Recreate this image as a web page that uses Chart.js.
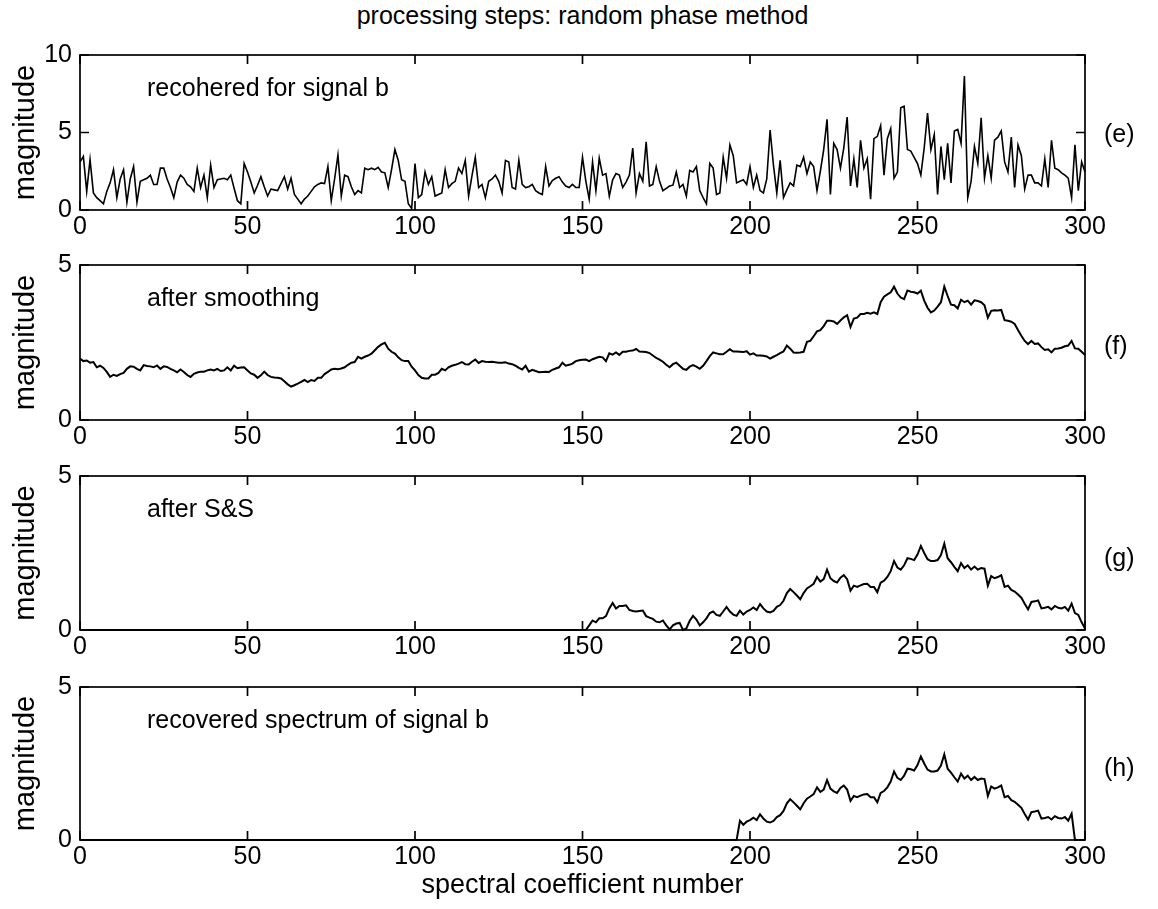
<!DOCTYPE html>
<html>
<head>
<meta charset="utf-8">
<title>processing steps: random phase method</title>
<script src="https://cdn.jsdelivr.net/npm/chart.js@4.4.1/dist/chart.umd.min.js"></script>
<style>
  body { margin: 0; background: #fff; }
  #page { position: relative; width: 1158px; height: 909px; font-family: "Liberation Sans", Arial, sans-serif; color: #000; }
  #page canvas { position: absolute; left: 0; }
  .caption { position: absolute; font-size: 25px; line-height: 30px; white-space: nowrap; }
  #title { left: 0; width: 1165px; top: 0; text-align: center; }
  .tag { left: 1104px; }
</style>
</head>
<body>
<div id="page">
  <div id="title" class="caption">processing steps: random phase method</div>
  <canvas id="panel-e"></canvas>
  <canvas id="panel-f"></canvas>
  <canvas id="panel-g"></canvas>
  <canvas id="panel-h"></canvas>
  <div class="caption tag" style="top:118px">(e)</div>
  <div class="caption tag" style="top:330px">(f)</div>
  <div class="caption tag" style="top:542px">(g)</div>
  <div class="caption tag" style="top:752px">(h)</div>
</div>
<script>
// spectral coefficient index, 0..300
const coeff = Array.from({ length: 301 }, (_, i) => i);
const xTicks = [0, 50, 100, 150, 200, 250, 300];

// (e) recohered spectrum for signal b
const recoheredB = [
  3.1, 3.45, 1.2, 3.25, 1.1, 0.8, 0.6, 0.4, 1.2, 1.75,
  2.6, 0.8, 2.0, 2.6, 0.5, 2.0, 2.8, 0.5, 1.85, 1.95,
  2.05, 2.25, 1.65, 1.65, 2.7, 2.7, 2.0, 1.45, 0.8, 1.8,
  2.25, 2.05, 1.65, 1.5, 1.2, 2.7, 1.45, 2.25, 0.8, 2.9,
  1.45, 1.95, 2.0, 2.05, 1.95, 2.25, 1.4, 0.6, 0.4, 3.0,
  2.45, 1.8, 1.1, 1.6, 2.15, 1.5, 0.9, 1.35, 1.3, 1.25,
  1.7, 2.15, 1.35, 2.05, 1.0, 0.7, 0.4, 0.7, 0.9, 1.2,
  1.5, 1.65, 1.75, 1.7, 2.8, 0.6, 2.0, 3.55, 0.9, 2.25,
  2.15, 1.5, 1.0, 1.25, 1.1, 2.7, 2.6, 2.7, 2.6, 2.75,
  2.45, 2.4, 1.45, 2.6, 3.9, 3.2, 1.95, 1.85, 0.4, 0.1,
  3.0, 0.8, 1.0, 2.45, 1.65, 2.15, 0.9, 1.0, 1.1, 2.6,
  1.45, 1.7, 1.85, 2.7, 2.35, 3.2, 0.9, 2.2, 3.4, 1.45,
  1.65, 0.8, 1.85, 2.0, 2.25, 1.85, 1.1, 3.2, 3.1, 1.45,
  1.35, 3.2, 1.65, 1.45, 1.5, 1.65, 1.25, 1.1, 1.0, 2.8,
  1.55, 1.9, 2.05, 2.15, 1.8, 1.55, 1.45, 1.65, 1.45, 1.45,
  3.4, 1.85, 0.7, 3.1, 1.25, 3.35, 2.25, 2.35, 0.9, 1.95,
  2.35, 2.25, 1.45, 1.8, 2.25, 4.0, 1.1, 2.35, 1.85, 4.4,
  1.55, 1.65, 2.8, 1.85, 1.25, 1.4, 1.55, 1.6, 2.45, 1.45,
  1.65, 0.9, 2.55, 2.45, 2.8, 1.25, 0.8, 0.4, 3.0, 2.7,
  1.0, 1.1, 3.4, 2.05, 4.2, 3.5, 1.75, 1.85, 1.95, 1.65,
  2.8, 1.45, 2.25, 1.25, 1.1, 2.0, 5.15, 2.9, 1.1, 3.2,
  0.8, 1.3, 1.75, 1.55, 2.9, 2.8, 3.4, 2.35, 3.1, 2.8,
  1.25, 2.5, 3.9, 5.85, 1.0, 4.3, 3.9, 2.7, 4.0, 6.0,
  1.55, 3.3, 1.45, 4.5, 2.7, 3.3, 0.7, 4.6, 4.75, 5.45,
  2.25, 4.6, 5.25, 2.05, 2.45, 6.6, 6.7, 3.9, 3.8, 3.4,
  3.0, 2.25, 4.0, 6.25, 3.9, 4.85, 1.0, 4.1, 1.95, 4.3,
  1.75, 5.1, 5.2, 4.3, 8.65, 0.8, 1.85, 4.1, 3.0, 5.95,
  2.05, 3.5, 2.05, 4.5, 4.7, 5.1, 3.1, 2.45, 4.7, 1.45,
  4.2, 3.5, 1.35, 2.25, 2.25, 1.75, 1.75, 1.55, 3.3, 1.45,
  4.5, 2.7, 2.6, 2.4, 2.25, 2.05, 0.8, 4.2, 1.25, 3.1, 2.45
];

// (f) after smoothing
const smoothed = [
  1.98, 1.9, 1.92, 1.85, 1.87, 1.7, 1.75, 1.68, 1.55, 1.39,
  1.46, 1.42, 1.48, 1.52, 1.65, 1.73, 1.72, 1.65, 1.6, 1.77,
  1.74, 1.73, 1.7, 1.76, 1.65, 1.73, 1.71, 1.65, 1.6, 1.54,
  1.63, 1.55, 1.45, 1.39, 1.49, 1.53, 1.56, 1.56, 1.6, 1.63,
  1.6, 1.65, 1.58, 1.6, 1.7, 1.6, 1.75, 1.67, 1.69, 1.7,
  1.6, 1.5, 1.46, 1.36, 1.44, 1.56, 1.45, 1.39, 1.37, 1.36,
  1.34, 1.25, 1.15, 1.08, 1.12, 1.17, 1.23, 1.29, 1.22, 1.29,
  1.26, 1.36, 1.36, 1.48, 1.55, 1.63, 1.65, 1.64, 1.66, 1.7,
  1.78, 1.85, 1.87, 2.04, 1.98, 2.04, 2.08, 2.14, 2.25, 2.36,
  2.44, 2.49, 2.3, 2.2, 2.14, 2.02, 1.93, 1.9, 1.9, 1.72,
  1.6, 1.45, 1.36, 1.34, 1.34, 1.46, 1.46, 1.52, 1.65, 1.6,
  1.7, 1.75, 1.78, 1.82, 1.87, 1.8, 1.79, 1.88, 1.95, 1.84,
  1.9, 1.88, 1.87, 1.88, 1.86, 1.85, 1.85, 1.86, 1.82, 1.8,
  1.75, 1.68, 1.63, 1.75, 1.56, 1.62, 1.58, 1.54, 1.55, 1.56,
  1.55, 1.62, 1.66, 1.7, 1.85, 1.75, 1.78, 1.82, 1.9, 1.93,
  1.94, 1.95, 1.9, 1.96, 2.0, 2.04, 2.02, 1.9, 2.15, 2.11,
  2.18, 2.1, 2.2, 2.2, 2.23, 2.24, 2.29, 2.21, 2.2, 2.19,
  2.16, 2.08, 2.0, 1.95, 1.88, 1.78, 1.7, 1.8, 1.85, 1.75,
  1.65, 1.62, 1.72, 1.77, 1.72, 1.65, 1.75, 1.9, 2.06, 2.18,
  2.15, 2.12, 2.12, 2.2, 2.28, 2.21, 2.21, 2.2, 2.19, 2.22,
  2.11, 2.15, 2.08, 2.08, 2.07, 2.05, 1.98, 2.04, 2.09, 2.16,
  2.21, 2.4, 2.3, 2.18, 2.17, 2.18, 2.2, 2.52, 2.55, 2.7,
  2.86, 2.9, 3.03, 3.2, 3.2, 3.18, 3.1, 3.21, 3.31, 3.38,
  3.0, 3.27, 3.3, 3.42, 3.42, 3.46, 3.43, 3.47, 3.42, 3.8,
  3.98, 4.05, 4.12, 4.3, 4.08, 3.95, 3.9, 4.18, 4.14, 4.12,
  4.08, 4.17, 3.85, 3.62, 3.47, 3.53, 3.66, 3.8, 4.3, 4.0,
  3.72, 3.7, 3.6, 3.88, 3.8, 3.85, 3.72, 3.86, 3.84, 3.8,
  3.7, 3.3, 3.52, 3.54, 3.53, 3.55, 3.22, 3.2, 3.17, 3.1,
  2.9, 2.72, 2.55, 2.45, 2.55, 2.45, 2.47, 2.35, 2.26, 2.28,
  2.18, 2.3, 2.31, 2.33, 2.38, 2.4, 2.55, 2.31, 2.3, 2.2, 2.1
];

// (g) after S&S: zero below coefficient 152, these values from 152 on
const ssStart = 152;
const afterSS = [
  0.15, 0.31, 0.25, 0.38, 0.38, 0.45, 0.7, 0.88, 0.7, 0.78,
  0.78, 0.8, 0.65, 0.62, 0.6, 0.62, 0.63, 0.45, 0.4, 0.36,
  0.27, 0.25, 0.31, 0.15, 0.02, 0.15, 0.21, 0.23, 0.0, 0.05,
  0.3, 0.46, 0.34, 0.15, 0.25, 0.38, 0.55, 0.6, 0.49, 0.46,
  0.6, 0.75, 0.6, 0.5, 0.46, 0.63, 0.5, 0.6, 0.65, 0.73,
  0.65, 0.84, 0.7, 0.6, 0.57, 0.62, 0.75, 0.81, 0.95, 1.2,
  1.33, 1.23, 1.12, 1.0, 1.2, 1.35, 1.42, 1.5, 1.72, 1.57,
  1.65, 1.96, 1.68, 1.59, 1.54, 1.7, 1.78, 1.65, 1.28, 1.44,
  1.4, 1.45, 1.49, 1.5, 1.4, 1.4, 1.23, 1.54, 1.6, 1.72,
  1.91, 2.24, 2.03, 1.96, 2.1, 2.33, 2.31, 2.27, 2.45, 2.73,
  2.5, 2.3, 2.24, 2.24, 2.27, 2.43, 2.8, 2.33, 2.2, 2.05,
  1.91, 2.17, 2.01, 2.1, 1.96, 2.06, 1.96, 2.01, 1.99, 1.44,
  1.75, 1.68, 1.72, 1.78, 1.4, 1.44, 1.3, 1.25, 1.15, 1.05,
  0.85, 0.67, 0.91, 0.93, 0.96, 0.7, 0.72, 0.75, 0.67, 0.78,
  0.72, 0.7, 0.75, 0.63, 0.86, 0.55, 0.49, 0.25, 0.05
];

// (h) recovered spectrum of signal b: zero below coefficient 197
const recoveredStart = 197;
const recoveredB = [
  0.63, 0.5, 0.6, 0.65, 0.73,
  0.65, 0.84, 0.7, 0.6, 0.57, 0.62, 0.75, 0.81, 0.95, 1.2,
  1.33, 1.23, 1.12, 1.0, 1.2, 1.35, 1.42, 1.5, 1.72, 1.57,
  1.65, 1.96, 1.68, 1.59, 1.54, 1.7, 1.78, 1.65, 1.28, 1.44,
  1.4, 1.45, 1.49, 1.5, 1.4, 1.4, 1.23, 1.54, 1.6, 1.72,
  1.91, 2.24, 2.03, 1.96, 2.1, 2.33, 2.31, 2.27, 2.45, 2.73,
  2.5, 2.3, 2.24, 2.24, 2.27, 2.43, 2.8, 2.33, 2.2, 2.05,
  1.91, 2.17, 2.01, 2.1, 1.96, 2.06, 1.96, 2.01, 1.99, 1.44,
  1.75, 1.68, 1.72, 1.78, 1.4, 1.44, 1.3, 1.25, 1.15, 1.05,
  0.85, 0.67, 0.91, 0.93, 0.96, 0.7, 0.72, 0.75, 0.67, 0.78,
  0.72, 0.7, 0.75, 0.63, 0.86, 0.0, 0.0, 0.0, 0.0
];

const FONT = '"Liberation Sans", Arial, sans-serif';
const TICK = 9;
const PAD_TOP = 16;

function fromIndex(values, start) {
  const pts = values.map((v, k) => ({ x: coeff[start + k], y: v }));
  if (start > 0) pts.unshift({ x: coeff[0], y: 0 }, { x: coeff[start - 1], y: 0 });
  return pts;
}

const panels = [
  { id: 'panel-e', note: 'recohered for signal b', noteY: 7.8, top: 48, bottom: 210, yMax: 10, lw: 1.6,
    points: fromIndex(recoheredB, 0) },
  { id: 'panel-f', note: 'after smoothing', noteY: 3.9, top: 258, bottom: 420, yMax: 5, lw: 2,
    points: fromIndex(smoothed, 0) },
  { id: 'panel-g', note: 'after S&S', noteY: 3.9, top: 469, bottom: 630, yMax: 5, lw: 2,
    points: fromIndex(afterSS, ssStart) },
  { id: 'panel-h', note: 'recovered spectrum of signal b', noteY: 3.9, top: 680, bottom: 840, yMax: 5, lw: 2,
    points: fromIndex(recoveredB, recoveredStart), last: true }
];

// box with inward ticks on all four sides, plus the panel caption
function framePlugin(p) {
  return {
    id: 'frame',
    afterDatasetsDraw(chart) {
      const { ctx, chartArea: a, scales: { x, y } } = chart;
      ctx.save();
      ctx.strokeStyle = '#000';
      ctx.lineWidth = 1.7;
      ctx.strokeRect(a.left, a.top, a.right - a.left, a.bottom - a.top);
      ctx.beginPath();
      x.ticks.forEach(t => {
        const px = x.getPixelForValue(t.value);
        ctx.moveTo(px, a.bottom); ctx.lineTo(px, a.bottom - TICK);
        ctx.moveTo(px, a.top); ctx.lineTo(px, a.top + TICK);
      });
      y.ticks.forEach(t => {
        const py = y.getPixelForValue(t.value);
        ctx.moveTo(a.left, py); ctx.lineTo(a.left + TICK, py);
        ctx.moveTo(a.right, py); ctx.lineTo(a.right - TICK, py);
      });
      ctx.stroke();
      ctx.fillStyle = '#000';
      ctx.font = '25px ' + FONT;
      ctx.textBaseline = 'middle';
      ctx.fillText(p.note, x.getPixelForValue(20), y.getPixelForValue(p.noteY));
      ctx.restore();
    }
  };
}

panels.forEach(p => {
  const canvas = document.getElementById(p.id);
  const axisH = p.last ? 69 : 34;
  const height = PAD_TOP + (p.bottom - p.top) + axisH;
  canvas.width = 1158;
  canvas.height = height;
  canvas.style.top = (p.top - PAD_TOP) + 'px';

  new Chart(canvas, {
    type: 'line',
    data: {
      datasets: [{
        data: p.points,
        borderColor: '#000',
        borderWidth: p.lw,
        pointRadius: 0,
        tension: 0,
        fill: false,
        clip: 3
      }]
    },
    options: {
      responsive: false,
      animation: false,
      events: [],
      layout: { padding: { top: PAD_TOP, right: 73, left: 0, bottom: 0 } },
      plugins: { legend: { display: false }, tooltip: { enabled: false } },
      scales: {
        x: {
          type: 'linear',
          min: 0,
          max: 300,
          afterBuildTicks: s => { s.ticks = xTicks.map(v => ({ value: v })); },
          afterFit: s => { s.height = axisH; },
          grid: { display: false, drawTicks: false },
          border: { display: false },
          ticks: { color: '#000', font: { family: FONT, size: 25 }, padding: 2, maxRotation: 0, autoSkip: false },
          title: {
            display: !!p.last,
            text: 'spectral coefficient number',
            color: '#000',
            font: { family: FONT, size: 27 },
            padding: { top: 0, bottom: 7 }
          }
        },
        y: {
          min: 0,
          max: p.yMax,
          afterBuildTicks: s => {
            const vals = [];
            for (let v = 0; v <= p.yMax; v += 5) vals.push({ value: v });
            s.ticks = vals;
          },
          afterFit: s => { s.width = 80; },
          grid: { display: false, drawTicks: false },
          border: { display: false },
          ticks: { color: '#000', font: { family: FONT, size: 25 }, padding: 8 },
          title: {
            display: true,
            text: 'magnitude',
            color: '#000',
            font: { family: FONT, size: 29 },
            padding: { top: 9, bottom: 0 }
          }
        }
      }
    },
    plugins: [framePlugin(p)]
  });
});
</script>
</body>
</html>
